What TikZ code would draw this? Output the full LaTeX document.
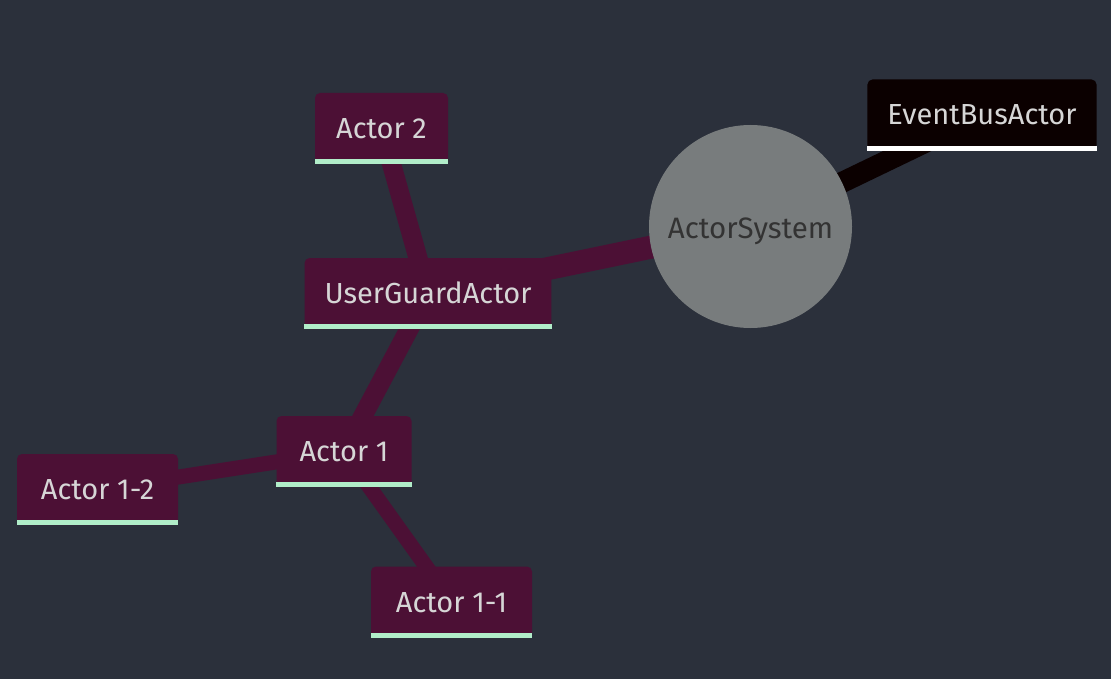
\documentclass[tikz,border=0pt]{standalone}
\usepackage{fontspec}
\setmainfont{Fira Sans}
\usepackage{tikz}
\usetikzlibrary{positioning,calc}

\definecolor{bgslate}{HTML}{2B303B}
\definecolor{actorfill}{HTML}{4C1035}
\definecolor{mintline}{HTML}{B1EDC9}
\definecolor{lighttext}{HTML}{D6D6D6}
\definecolor{sysgray}{HTML}{787C7D}
\definecolor{busfill}{HTML}{0B0000}

\begin{document}
\begin{tikzpicture}[x=1pt,y=-1pt,
		actorbox/.style={fill=actorfill, text=lighttext, rounded corners=5pt,
			inner xsep=20pt, inner ysep=0pt, minimum height=71pt,
			text height=20pt, text depth=0pt,
			font=\fontsize{29}{32}\selectfont},
		busbox/.style={actorbox, fill=busfill},
		sysnode/.style={circle, fill=sysgray, text=black!80, minimum size=203pt,
			inner sep=0pt, text height=23pt, text depth=0pt,
			font=\fontsize{29.5}{32}\selectfont},
		link/.style={line cap=butt}]

		\fill[bgslate] (0,0) rectangle (1111,679);
		\useasboundingbox (0,0) rectangle (1111,679);

		\coordinate (sys) at (750.5,226.5);
		\coordinate (bus) at (982,115);
		\coordinate (uga) at (428,293.5);
		\coordinate (a2) at (381.5,128.5);
		\coordinate (a1) at (344,451.5);
		\coordinate (a12) at (97.5,489.5);
		\coordinate (a11) at (451.5,602);

		\draw[link, busfill, line width=21pt] (sys)--(bus);
		\draw[link, actorfill, line width=23pt] (sys)--(uga);
		\draw[link, actorfill, line width=19pt] (uga)--(a2);
		\draw[link, actorfill, line width=19pt] (uga)--(a1);
		\draw[link, actorfill, line width=15pt] (a1)--(a12);
		\draw[link, actorfill, line width=15pt] (a1)--(a11);

		\node[sysnode] (n-sys) at (sys) {ActorSystem};
		\node[busbox] (n-bus) at (bus) {EventBusActor};
		\node[actorbox] (n-uga) at (uga) {UserGuardActor};
		\node[actorbox, minimum width=133pt] (n-a2) at (a2) {Actor 2};
		\node[actorbox, minimum width=135pt] (n-a1) at (a1) {Actor 1};
		\node[actorbox, minimum width=161pt] (n-a12) at (a12) {Actor 1-2};
		\node[actorbox, minimum width=161pt] (n-a11) at (a11) {Actor 1-1};

		\fill[white] (n-bus.south west) rectangle ([yshift=5pt]n-bus.south east);
		\foreach \n in {uga,a2,a1,a12,a11}
			\fill[mintline] (n-\n.south west) rectangle ([yshift=5pt]n-\n.south east);
	\end{tikzpicture}
\end{document}
